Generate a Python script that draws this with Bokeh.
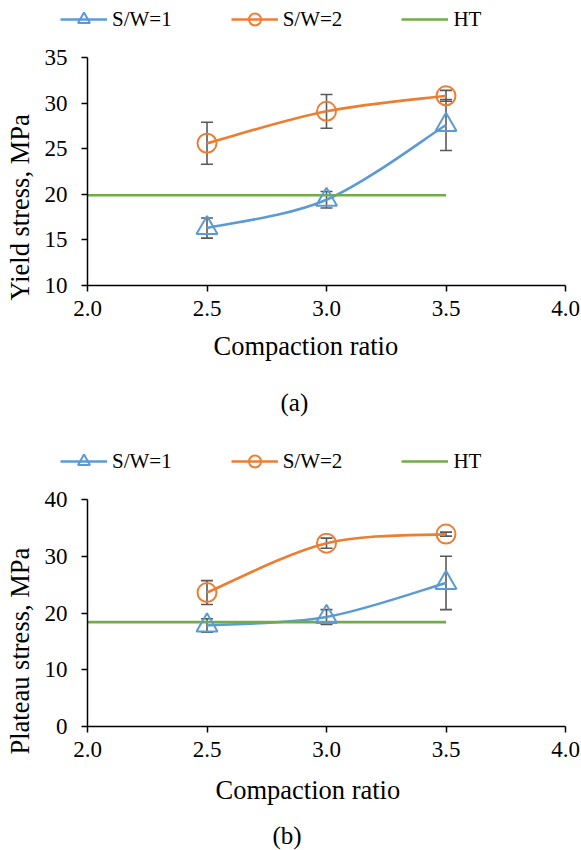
import math
from bokeh.plotting import figure
from bokeh.layouts import column, row
from bokeh.models import (Range1d, FixedTicker, NumeralTickFormatter, Whisker, TeeHead,
                          ColumnDataSource, Legend, LegendItem, Label)
from bokeh.embed import file_html
from bokeh.resources import INLINE

# ---------------- data ----------------
compaction = [2.5, 3.0, 3.5]
ht_x = [2.0, 3.5]
x_ticks = [2.0, 2.5, 3.0, 3.5, 4.0]

yield_sw1 = [16.3, 19.4, 27.6]
yield_sw1_err = [1.1, 0.9, 2.8]
yield_sw2 = [25.6, 29.1, 30.8]
yield_sw2_err = [2.3, 1.85, 0.6]
yield_ht = [19.9, 19.9]
yield_ticks = [10, 15, 20, 25, 30, 35]

plateau_sw1 = [17.8, 19.3, 25.3]
plateau_sw1_err = [1.2, 1.3, 4.7]
plateau_sw2 = [23.6, 32.3, 33.9]
plateau_sw2_err = [2.1, 0.9, 0.35]
plateau_ht = [18.4, 18.4]
plateau_ticks = [0, 10, 20, 30, 40]

series_labels = ["S/W=1", "S/W=2", "HT"]
x_title = "Compaction ratio"

BLUE = "#5B9BD5"
ORANGE = "#ED7D31"
GREEN = "#70AD47"
GREY = "#595959"
FONT = "Liberation Serif"
LW = 2.6


def smooth(xs, ys):
    """Bezier control points (Catmull-Rom style, like a smoothed spreadsheet line)."""
    px = [xs[0]] + list(xs) + [xs[-1]]
    py = [ys[0]] + list(ys) + [ys[-1]]
    d = dict(x0=[], y0=[], x1=[], y1=[], cx0=[], cy0=[], cx1=[], cy1=[])
    for j in range(1, len(xs)):
        d["x0"].append(px[j]); d["y0"].append(py[j])
        d["x1"].append(px[j + 1]); d["y1"].append(py[j + 1])
        d["cx0"].append(px[j] + (px[j + 1] - px[j - 1]) / 6)
        d["cy0"].append(py[j] + (py[j + 1] - py[j - 1]) / 6)
        d["cx1"].append(px[j + 1] - (px[j + 2] - px[j]) / 6)
        d["cy1"].append(py[j + 1] - (py[j + 2] - py[j]) / 6)
    return ColumnDataSource(d)


def draw_series(p, sw1, sw2, ht):
    b1 = p.bezier(source=smooth(compaction, sw1), x0="x0", y0="y0", x1="x1", y1="y1",
                  cx0="cx0", cy0="cy0", cx1="cx1", cy1="cy1", line_color=BLUE, line_width=LW)
    b2 = p.bezier(source=smooth(compaction, sw2), x0="x0", y0="y0", x1="x1", y1="y1",
                  cx0="cx0", cy0="cy0", cx1="cx1", cy1="cy1", line_color=ORANGE, line_width=LW)
    h = p.line(ht_x, ht, line_color=GREEN, line_width=LW)
    m1 = p.scatter(compaction, sw1, marker="triangle", size=21, fill_color=None,
                   line_color=BLUE, line_width=2)
    m2 = p.scatter(compaction, sw2, marker="circle", size=19, fill_color=None,
                   line_color=ORANGE, line_width=2)
    return b1, b2, h, m1, m2


def whisker(p, xs, ys, errs):
    src = ColumnDataSource(dict(base=xs,
                                upper=[y + e for y, e in zip(ys, errs)],
                                lower=[y - e for y, e in zip(ys, errs)]))
    w = Whisker(base="base", upper="upper", lower="lower", source=src, dimension="height",
                line_color=GREY, line_width=1.6,
                upper_head=TeeHead(size=12, line_color=GREY, line_width=1.6),
                lower_head=TeeHead(size=12, line_color=GREY, line_width=1.6))
    p.add_layout(w)


def blank(w, h, xr=None, yr=None):
    f = figure(frame_width=w, frame_height=h, min_border=0,
               min_border_left=0, min_border_right=0, min_border_top=0, min_border_bottom=0,
               x_range=xr if xr is not None else Range1d(0, w),
               y_range=yr if yr is not None else Range1d(0, h),
               x_axis_location=None, y_axis_location=None,
               output_backend="svg", toolbar_location=None,
               background_fill_color="white", border_fill_color="white")
    f.outline_line_color = None
    f.grid.visible = False
    return f


def legend_fig(h, sw1, sw2, ht):
    # legend strip: its renderers use the same series, the data lie outside its (0..1) view
    f = blank(581, h, Range1d(0, 1), Range1d(0, 1))
    b1, b2, hl, m1, m2 = draw_series(f, sw1, sw2, ht)
    legend = Legend(items=[LegendItem(label=series_labels[0], renderers=[b1, m1]),
                           LegendItem(label=series_labels[1], renderers=[b2, m2]),
                           LegendItem(label=series_labels[2], renderers=[hl])],
                    orientation="horizontal", location=(60, h - 34 if h == 40 else h - 38),
                    label_text_font=FONT, label_text_font_size="21px",
                    label_text_color="black",
                    glyph_width=47, glyph_height=30, label_standoff=5, spacing=59,
                    padding=0, margin=0, border_line_alpha=0, background_fill_alpha=0)
    f.add_layout(legend)
    return f


def chart(sw1, sw1_err, sw2, sw2_err, ht, yr, yticks, frame_h):
    p = figure(frame_width=478, frame_height=frame_h,
               min_border_left=47, min_border_right=16,
               min_border_top=17, min_border_bottom=44,
               x_range=Range1d(2.0, 4.0), y_range=Range1d(*yr),
               output_backend="svg", toolbar_location=None,
               background_fill_color="white", border_fill_color="white")
    p.outline_line_color = None
    p.xgrid.visible = False
    p.ygrid.visible = False
    draw_series(p, sw1, sw2, ht)
    whisker(p, compaction, sw1, sw1_err)
    whisker(p, compaction, sw2, sw2_err)
    for ax in (p.xaxis[0], p.yaxis[0]):
        ax.axis_line_color = "black"
        ax.axis_line_width = 1.5
        ax.major_tick_line_color = "black"
        ax.major_tick_line_width = 1.5
        ax.major_tick_out = 6
        ax.major_tick_in = 0
        ax.minor_tick_out = 0
        ax.minor_tick_in = 0
        ax.major_label_text_font = FONT
        ax.major_label_text_font_size = "23px"
        ax.major_label_text_color = "black"
    p.xaxis[0].ticker = FixedTicker(ticks=x_ticks)
    p.xaxis[0].formatter = NumeralTickFormatter(format="0.0")
    p.xaxis[0].major_label_standoff = 9
    p.yaxis[0].ticker = FixedTicker(ticks=yticks)
    p.yaxis[0].formatter = NumeralTickFormatter(format="0")
    p.yaxis[0].major_label_standoff = 14
    return p


def ytitle_fig(h, text, y0):
    f = blank(40, h)
    f.add_layout(Label(x=19, y=y0, text=text, angle=math.pi / 2, text_align="left",
                       text_baseline="middle", text_font=FONT, text_font_size="26.5px",
                       text_color="black"))
    return f


def caption_fig(h, title_x, title_y, cap, cap_x, cap_y):
    f = blank(581, h)
    f.add_layout(Label(x=title_x, y=title_y, text=x_title, text_align="left",
                       text_baseline="middle", text_font=FONT, text_font_size="26.5px",
                       text_color="black"))
    f.add_layout(Label(x=cap_x, y=cap_y, text=cap, text_align="left",
                       text_baseline="middle", text_font=FONT, text_font_size="25px",
                       text_color="black"))
    return f


# panel (a)
leg_a = legend_fig(40, yield_sw1, yield_sw2, yield_ht)
pa = chart(yield_sw1, yield_sw1_err, yield_sw2, yield_sw2_err, yield_ht, (10, 35),
           yield_ticks, 228)
yt_a = ytitle_fig(289, "Yield stress, MPa", 46)
cap_a = caption_fig(109, 213, 93, "(a)", 280, 36)

# panel (b)
leg_b = legend_fig(44, plateau_sw1, plateau_sw2, plateau_ht)
pb = chart(plateau_sw1, plateau_sw1_err, plateau_sw2, plateau_sw2_err, plateau_ht, (0, 40),
           plateau_ticks, 227)
yt_b = ytitle_fig(288, "Plateau stress, MPa", 33)
cap_b = caption_fig(80, 215, 61, "(b)", 272, 15)

layout = column(leg_a, row(yt_a, pa, spacing=0), cap_a,
                leg_b, row(yt_b, pb, spacing=0), cap_b, spacing=0)
open("out.html", "w").write(file_html(layout, INLINE))
